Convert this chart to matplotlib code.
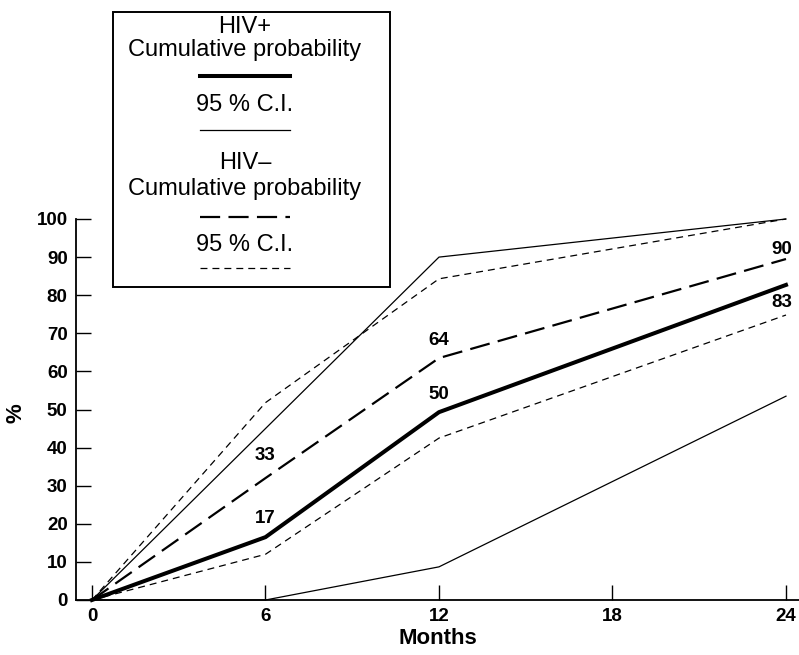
import matplotlib
matplotlib.use('Agg')

import matplotlib.pyplot as plt
from matplotlib.lines import Line2D
from matplotlib.patches import Rectangle

plt.rcParams['font.family'] = ['Liberation Sans', 'DejaVu Sans']
plt.rcParams['lines.scale_dashes'] = False

# --- Data ---
months = [0, 6, 12, 24]
hiv_pos = [0, 16.5, 49.3, 82.7]
hiv_pos_ci_low = [0, 0, 8.7, 53.5]
hiv_pos_ci_high = [0, 45, 90, 100]
hiv_neg = [0, 32, 63.5, 89.5]
hiv_neg_ci_low = [0, 12, 42.5, 74.8]
hiv_neg_ci_high = [0, 51.8, 84.3, 100]

label_text = ['17', '50', '83', '33', '64', '90']
label_x = [6, 12, 23.85, 6, 12, 23.85]
label_y = [21.5, 54, 78, 38, 68, 92]

W, H = 799, 655
fig = plt.figure(figsize=(W / 100, H / 100), dpi=100)

# axes placed so 0 -> x px 92, 24 -> x px 786, y 0 -> 600 px, 100 -> 219 px
ax = fig.add_axes([76 / W, (H - 600) / H, (W - 76) / W, 381 / H])
ax.set_xlim(-0.553, 24.45)
ax.set_ylim(0, 100)

long_dash = (14.5, 6)
short_dash = (5, 3.6)

ax.plot(months, hiv_pos, color='black', lw=2.9, solid_joinstyle='miter', clip_on=False)
ax.plot(months, hiv_pos_ci_low, color='black', lw=0.9, clip_on=False)
ax.plot(months, hiv_pos_ci_high, color='black', lw=0.9, clip_on=False)
ax.plot(months, hiv_neg, color='black', lw=1.6, dashes=long_dash, clip_on=False)
ax.plot(months, hiv_neg_ci_low, color='black', lw=0.9, dashes=short_dash, clip_on=False)
ax.plot(months, hiv_neg_ci_high, color='black', lw=0.9, dashes=short_dash, clip_on=False)

for t, x, y in zip(label_text, label_x, label_y):
    ax.text(x, y, t, ha='center', va='center', fontsize=13.5, fontweight='bold')

# axes styling
for s in ['top', 'right']:
    ax.spines[s].set_visible(False)
ax.spines['left'].set_linewidth(1.3)
ax.spines['bottom'].set_linewidth(1.3)

ax.set_xticks([0, 6, 12, 18, 24])
ax.set_yticks(range(0, 101, 10))
ax.tick_params(direction='in', length=11, width=1.0, labelsize=13.5, pad=6)
for lab in ax.get_xticklabels() + ax.get_yticklabels():
    lab.set_fontweight('bold')

ax.set_xlabel('Months', fontsize=16, fontweight='bold', labelpad=2)

# --- Legend box (figure pixel coordinates) ---
def fx(px):
    return px / W

def fy(py):
    return 1 - py / H

# y axis label placed by hand so it stays inside the figure
fig.text(fx(16), fy(413), '%', rotation=90, ha='center', va='center',
         fontsize=16, fontweight='bold')

fig.add_artist(Rectangle((fx(113), fy(287)), fx(390) - fx(113), fy(12) - fy(287),
                         transform=fig.transFigure, fill=True, facecolor='white',
                         edgecolor='black', lw=1.4, zorder=5))

cx = 245
texts = [('HIV+', 27), ('Cumulative probability', 50), ('95 % C.I.', 105),
         ('HIV\u2013', 163), ('Cumulative probability', 189), ('95 % C.I.', 245)]
for t, py in texts:
    fig.text(fx(cx), fy(py), t, ha='center', va='center', fontsize=17, zorder=6)

samples = [(76, dict(lw=2.9)), (130, dict(lw=0.9)),
           (217, dict(lw=1.6, dashes=long_dash)), (268, dict(lw=0.9, dashes=short_dash))]
for py, kw in samples:
    fig.add_artist(Line2D([fx(200), fx(290)], [fy(py), fy(py)], transform=fig.transFigure,
                          color='black', zorder=6, **kw))

plt.savefig('out.png', dpi=100)
